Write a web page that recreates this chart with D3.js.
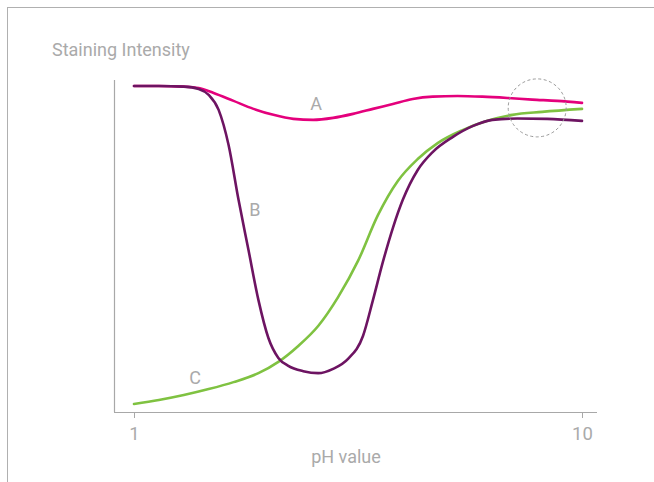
<!DOCTYPE html>
<html><head><meta charset="utf-8">
<script src="https://cdn.jsdelivr.net/npm/d3@7"></script>
<style>body{margin:0;background:#fff;} svg{display:block;font-family:Roboto,sans-serif;}</style>
</head><body>
<svg id="chart" width="654" height="482"></svg>
<script>
const xTicks = [1, 10];
const phA = [1.0,1.5,2.0,2.3,2.6,3.0,3.4,3.8,4.2,4.6,5.0,5.4,5.8,6.2,6.6,7.0,7.5,8.0,8.5,9.0,9.5,10];
const valA = [98.2,98.2,98.0,97.6,96.1,93.7,91.3,89.5,88.3,88.0,88.6,89.8,91.3,92.8,94.3,95.0,95.2,95.0,94.6,94.1,93.7,93.1];
const phB = [1.0,1.5,2.0,2.3,2.5,2.7,2.9,3.1,3.3,3.5,3.7,3.9,4.1,4.4,4.7,5.0,5.3,5.6,5.8,6.0,6.2,6.4,6.7,7.0,7.4,7.8,8.2,8.7,9.3,10];
const valB = [98.2,98.2,98.0,97.3,95.5,91.0,80.4,63.9,48.8,33.7,22.3,16.3,13.9,12.3,11.7,13.0,16.0,22.9,33.7,45.2,55.4,63.9,72.9,78.3,82.8,86.1,88.0,88.4,88.3,87.7];
const phC = [1.0,1.5,2.0,2.5,3.0,3.5,3.9,4.3,4.7,5.1,5.5,5.9,6.3,6.7,7.1,7.6,8.1,8.6,9.2,10];
const valC = [2.4,3.6,5.1,6.9,9.0,11.7,15.1,19.9,25.9,34.6,45.5,59.3,69.6,76.2,81.0,84.9,87.7,89.5,90.4,91.3];
const seriesNames = ["A","B","C"];
const labelPos = [[4.66,91],[3.43,58.9],[2.23,8.3]]; // [pH, intensity] of series label baselines
const highlight = [9.1, 91.6]; // dashed circle centre [pH, intensity]

const svg = d3.select("#chart");
const gray = "#aaaaaa";
svg.append("rect").attr("x",7.5).attr("y",7.5).attr("width",700).attr("height",600)
  .attr("fill","none").attr("stroke","#b0b0b0").attr("stroke-width",1);

const x = d3.scaleLinear().domain([1,10]).range([134,582]);
const y = d3.scaleLinear().domain([0,100]).range([412,80]);

// axes
svg.append("line").attr("x1",114.5).attr("x2",114.5).attr("y1",80).attr("y2",412)
  .attr("stroke","#a8a8a8").attr("stroke-width",1.2);
const xAxis = svg.append("g").attr("transform","translate(0,412)")
  .call(d3.axisBottom(x).tickValues(xTicks).tickSize(6).tickPadding(9).tickFormat(d3.format("d")));
xAxis.select(".domain").remove();
xAxis.append("line").attr("x1",114).attr("x2",597).attr("y1",0.5).attr("y2",0.5).attr("stroke","#a8a8a8").attr("stroke-width",1.2);
xAxis.selectAll(".tick line").attr("stroke","#a8a8a8");
xAxis.selectAll(".tick text").attr("fill",gray).attr("font-size",18.5).attr("font-family","Roboto");

svg.append("text").attr("x",346).attr("y",463).attr("text-anchor","middle")
  .attr("fill",gray).attr("font-size",18).text("pH value");
svg.append("text").attr("x",52).attr("y",56)
  .attr("fill",gray).attr("font-size",18).text("Staining Intensity");

const line = d3.line().x(d=>x(d[0])).y(d=>y(d[1])).curve(d3.curveMonotoneX);
const data = [
  {name:"A", pts: d3.zip(phA,valA), color:"#e4007c"},
  {name:"C", pts: d3.zip(phC,valC), color:"#7fc241"},
  {name:"B", pts: d3.zip(phB,valB), color:"#6d1462"}
];
svg.selectAll("path.s").data(data).join("path").attr("class","s")
  .attr("d",d=>line(d.pts)).attr("fill","none").attr("stroke",d=>d.color)
  .attr("stroke-width",2.6).attr("stroke-linecap","round");

svg.selectAll("text.lbl").data(seriesNames).join("text").attr("class","lbl")
  .attr("x",(d,i)=>x(labelPos[i][0])).attr("y",(d,i)=>y(labelPos[i][1]))
  .attr("text-anchor","middle").attr("fill",gray).attr("font-size",18).text(d=>d);

svg.append("circle").attr("cx",x(highlight[0])).attr("cy",y(highlight[1])).attr("r",29)
  .attr("fill","none").attr("stroke","#999").attr("stroke-width",1).attr("stroke-dasharray","3,2.5");
</script>
</body></html>
